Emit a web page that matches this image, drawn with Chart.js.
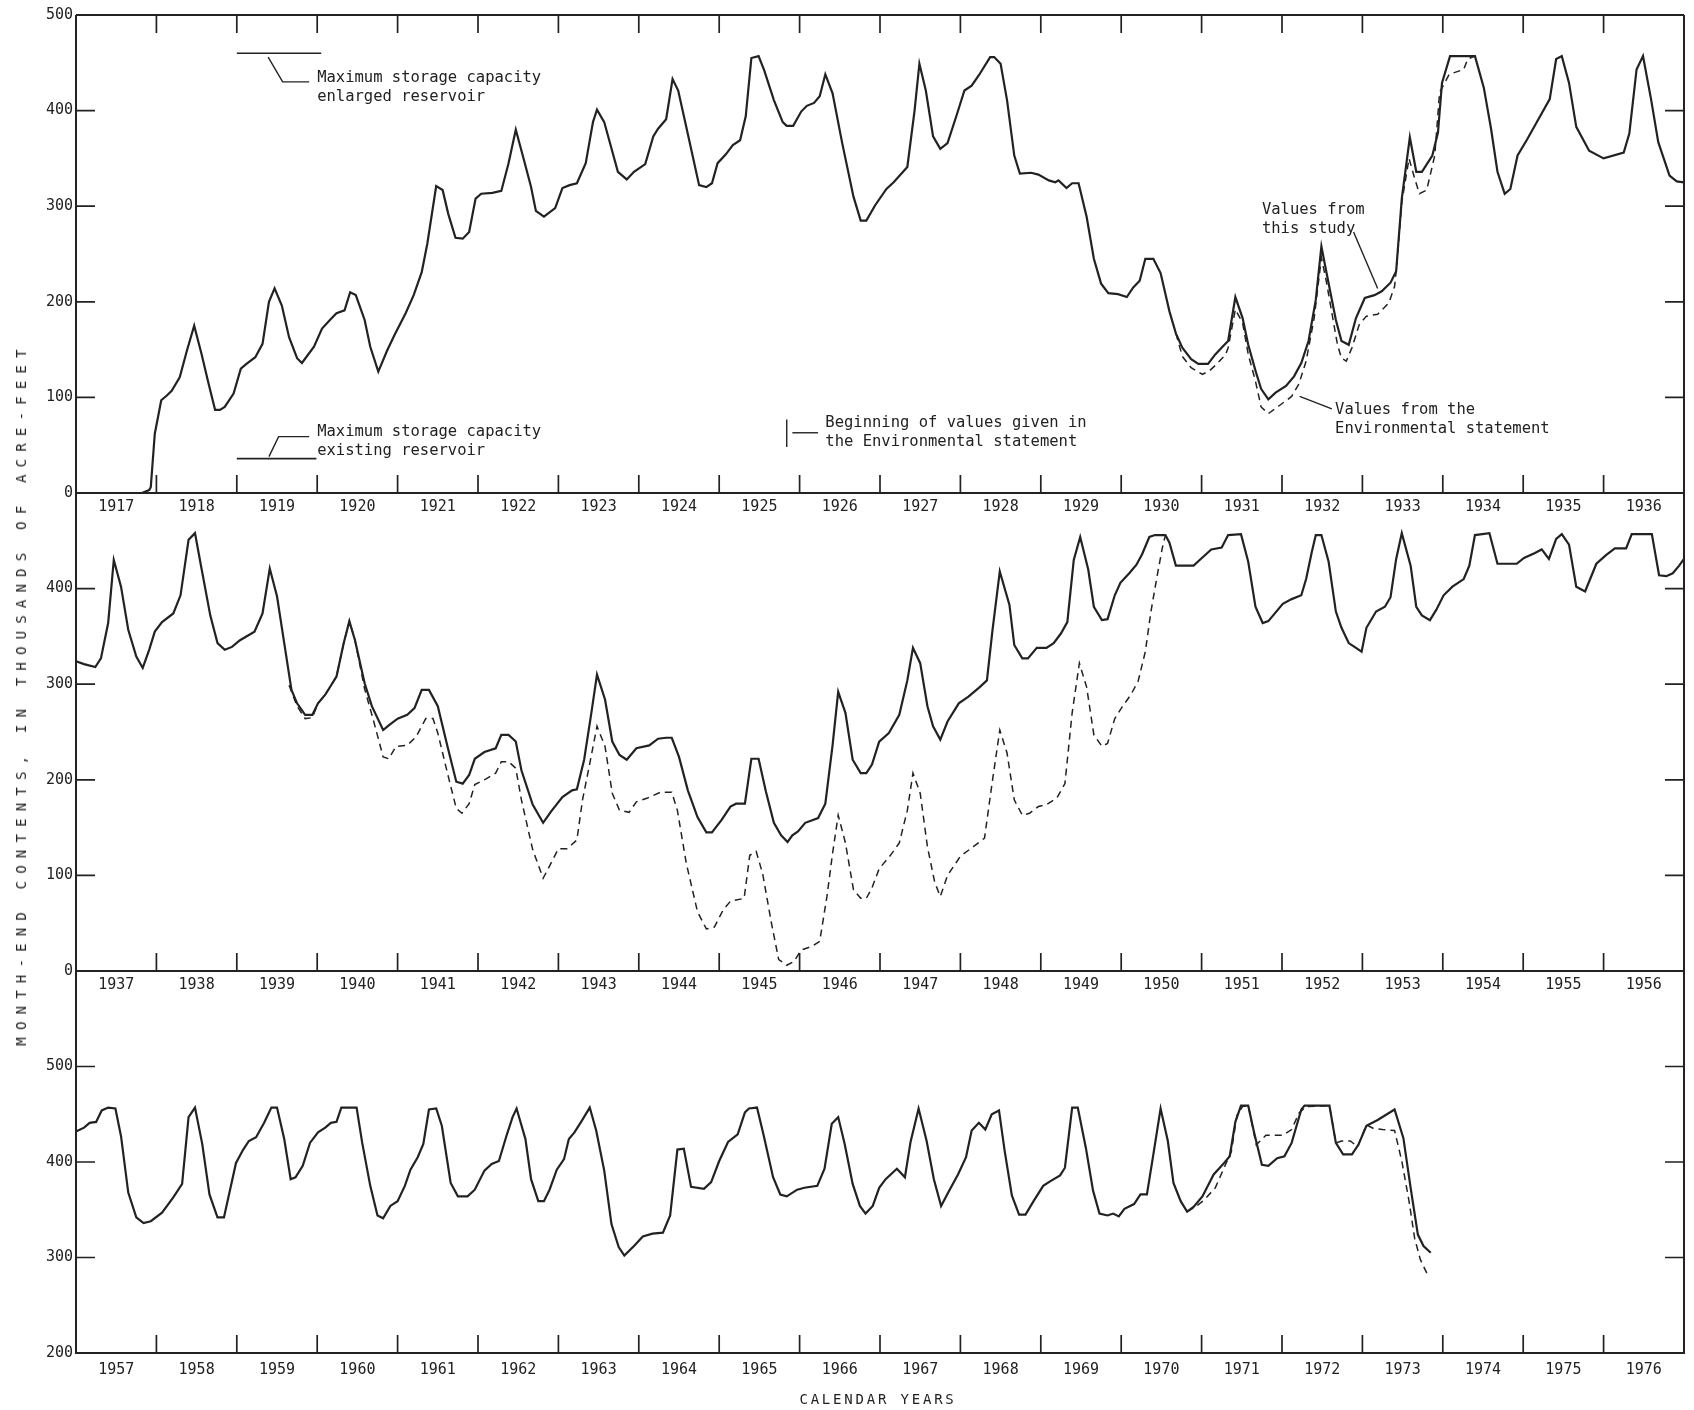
<!DOCTYPE html>
<html>
<head>
<meta charset="utf-8">
<title>Month-end contents</title>
<script src="https://cdn.jsdelivr.net/npm/chart.js@4.4.0/dist/chart.umd.min.js"></script>
<style>
html, body { margin: 0; padding: 0; background: #fff; }
#wrap { position: relative; width: 1694px; height: 1410px; overflow: hidden; }
#wrap canvas { position: absolute; left: 0; top: 0; }
.note {
    position: absolute;
    font-family: "DejaVu Sans Mono", monospace;
    font-size: 15.5px;
    line-height: 19px;
    color: #222;
    white-space: pre;
}
#yTitle {
    position: absolute;
    left: 21px;
    top: 694px;
    transform: translate(-50%, -50%) rotate(-90deg);
    font-family: "DejaVu Sans Mono", monospace;
    font-size: 14px;
    letter-spacing: 7.2px;
    color: #222;
    white-space: nowrap;
}
#xTitle {
    position: absolute;
    left: 878px;
    top: 1399px;
    transform: translate(-50%, -50%);
    font-family: "DejaVu Sans Mono", monospace;
    font-size: 14px;
    letter-spacing: 2.8px;
    color: #222;
    white-space: nowrap;
}
</style>
</head>
<body>
<div id="wrap">
    <canvas id="panel1" width="1694" height="1410"></canvas>
    <canvas id="panel2" width="1694" height="1410"></canvas>
    <canvas id="panel3" width="1694" height="1410"></canvas>
    <div id="yTitle">MONTH-END CONTENTS, IN THOUSANDS OF ACRE-FEET</div>
    <div id="xTitle">CALENDAR YEARS</div>
</div>

<script>

// Month-end contents, thousands of acre-feet, as [year, value] pairs

// 1917-1936, values from this study
const study1917 = [
    [1917.0,0],[1917.82,0],[1917.91,3],[1917.93,6],[1917.98,62],[1918.06,97],[1918.13,102],[1918.19,107],
    [1918.29,121],[1918.38,149],[1918.47,175],[1918.56,146],[1918.65,114],[1918.73,87],[1918.79,87],[1918.85,90],
    [1918.96,104],[1919.05,130],[1919.12,135],[1919.23,142],[1919.32,156],[1919.4,200],[1919.47,214],[1919.56,196],
    [1919.65,163],[1919.75,141],[1919.81,136],[1919.96,153],[1920.06,172],[1920.17,182],[1920.24,188],[1920.34,191],
    [1920.41,210],[1920.48,207],[1920.59,181],[1920.66,153],[1920.76,127],[1920.87,149],[1920.96,165],[1921.1,188],
    [1921.2,207],[1921.3,231],[1921.37,261],[1921.48,321],[1921.56,317],[1921.63,292],[1921.72,267],[1921.81,266],
    [1921.89,273],[1921.97,308],[1922.04,313],[1922.18,314],[1922.29,316],[1922.38,345],[1922.47,380],[1922.56,352],
    [1922.66,320],[1922.72,295],[1922.82,289],[1922.96,298],[1923.05,319],[1923.14,322],[1923.23,324],[1923.34,345],
    [1923.43,388],[1923.48,401],[1923.57,388],[1923.74,336],[1923.85,328],[1923.94,336],[1924.08,344],[1924.18,373],
    [1924.24,381],[1924.34,391],[1924.42,433],[1924.49,421],[1924.59,383],[1924.75,322],[1924.84,320],[1924.91,324],
    [1924.98,345],[1925.08,354],[1925.17,364],[1925.26,369],[1925.33,394],[1925.4,455],[1925.49,457],[1925.56,442],
    [1925.68,411],[1925.79,388],[1925.84,384],[1925.92,384],[1926.02,399],[1926.09,405],[1926.18,408],[1926.25,415],
    [1926.32,438],[1926.41,418],[1926.53,366],[1926.67,310],[1926.76,285],[1926.83,285],[1926.94,301],[1927.08,318],
    [1927.17,325],[1927.34,341],[1927.43,400],[1927.49,449],[1927.57,421],[1927.66,373],[1927.75,360],[1927.84,366],
    [1927.96,397],[1928.05,421],[1928.14,426],[1928.23,437],[1928.37,456],[1928.42,456],[1928.5,449],[1928.58,411],
    [1928.67,353],[1928.74,334],[1928.88,335],[1928.97,333],[1929.1,327],[1929.18,325],[1929.22,327],[1929.32,319],
    [1929.39,324],[1929.47,324],[1929.57,289],[1929.66,245],[1929.75,219],[1929.84,209],[1929.96,208],[1930.07,205],
    [1930.15,215],[1930.23,222],[1930.3,245],[1930.4,245],[1930.49,230],[1930.6,190],[1930.68,167],[1930.76,152],
    [1930.87,140],[1930.96,135],[1931.08,135],[1931.17,145],[1931.26,153],[1931.33,159],[1931.42,205],[1931.51,183],
    [1931.58,155],[1931.67,128],[1931.74,109],[1931.83,98],[1931.92,105],[1932.05,112],[1932.15,122],[1932.24,136],
    [1932.33,159],[1932.42,202],[1932.49,258],[1932.55,232],[1932.67,181],[1932.74,159],[1932.83,155],[1932.92,183],
    [1933.03,204],[1933.15,207],[1933.24,211],[1933.35,220],[1933.42,232],[1933.49,308],[1933.59,372],[1933.67,336],
    [1933.74,336],[1933.87,353],[1933.94,377],[1933.99,429],[1934.09,457],[1934.4,457],[1934.51,424],[1934.6,381],
    [1934.68,336],[1934.77,313],[1934.84,318],[1934.93,353],[1935.05,370],[1935.17,388],[1935.33,412],[1935.41,454],
    [1935.48,457],[1935.57,429],[1935.66,383],[1935.82,358],[1936.0,350],[1936.25,356],[1936.32,376],[1936.41,443],
    [1936.49,457],[1936.59,412],[1936.68,367],[1936.82,332],[1936.91,326],[1937.0,325]
];

// 1917-1936, values from the Environmental statement
const env1917 = [
    [1930.68,167],[1930.76,143],[1930.87,131],[1931.01,124],[1931.1,128],[1931.19,135],[1931.3,145],[1931.33,152],
    [1931.42,192],[1931.51,178],[1931.58,145],[1931.67,117],[1931.74,90],[1931.83,83],[1931.96,91],[1932.12,101],
    [1932.21,114],[1932.3,138],[1932.4,183],[1932.49,246],[1932.55,222],[1932.69,155],[1932.74,141],[1932.8,138],
    [1932.87,152],[1932.96,176],[1933.05,185],[1933.19,187],[1933.33,199],[1933.4,216],[1933.42,232],[1933.49,304],
    [1933.58,350],[1933.65,329],[1933.71,313],[1933.8,317],[1933.9,353],[1933.96,419],[1934.08,438],[1934.26,443],
    [1934.31,454],[1934.4,457]
];

// 1937-1956, values from this study
const study1937 = [
    [1937.0,324],[1937.1,321],[1937.24,318],[1937.31,327],[1937.4,364],[1937.47,430],[1937.56,402],[1937.65,357],
    [1937.75,329],[1937.83,317],[1937.91,336],[1937.98,355],[1938.07,365],[1938.21,374],[1938.3,393],[1938.4,451],
    [1938.48,458],[1938.55,426],[1938.67,372],[1938.76,343],[1938.85,336],[1938.94,339],[1939.04,346],[1939.22,355],
    [1939.32,374],[1939.41,421],[1939.5,392],[1939.59,343],[1939.68,294],[1939.75,280],[1939.85,268],[1939.94,268],
    [1940.01,280],[1940.1,289],[1940.24,308],[1940.33,343],[1940.4,366],[1940.47,346],[1940.59,301],[1940.68,277],
    [1940.82,252],[1940.89,257],[1941.0,264],[1941.12,268],[1941.21,275],[1941.3,294],[1941.39,294],[1941.5,277],
    [1941.62,235],[1941.73,198],[1941.81,196],[1941.89,205],[1941.96,222],[1942.08,229],[1942.22,233],[1942.29,247],
    [1942.38,247],[1942.47,240],[1942.54,210],[1942.68,174],[1942.81,155],[1942.91,167],[1943.05,182],[1943.17,189],
    [1943.23,190],[1943.32,221],[1943.41,270],[1943.48,310],[1943.58,284],[1943.67,240],[1943.76,226],[1943.85,221],
    [1943.97,233],[1944.13,236],[1944.24,243],[1944.34,244],[1944.41,244],[1944.5,224],[1944.61,189],[1944.73,161],
    [1944.84,145],[1944.91,145],[1945.03,158],[1945.14,172],[1945.21,175],[1945.32,175],[1945.4,222],[1945.49,222],
    [1945.58,188],[1945.68,155],[1945.77,142],[1945.85,135],[1945.91,142],[1945.98,146],[1946.07,155],[1946.23,160],
    [1946.32,175],[1946.41,236],[1946.48,292],[1946.57,270],[1946.66,221],[1946.76,207],[1946.83,207],[1946.9,216],
    [1946.99,240],[1947.11,249],[1947.24,268],[1947.34,304],[1947.41,338],[1947.5,322],[1947.59,277],[1947.66,256],
    [1947.75,242],[1947.84,261],[1947.98,280],[1948.1,287],[1948.24,297],[1948.33,304],[1948.4,357],[1948.49,418],
    [1948.61,383],[1948.67,341],[1948.77,327],[1948.84,327],[1948.95,338],[1949.07,338],[1949.16,343],[1949.25,353],
    [1949.33,365],[1949.41,430],[1949.49,454],[1949.59,420],[1949.66,381],[1949.76,367],[1949.83,368],[1949.92,393],
    [1949.99,406],[1950.1,416],[1950.19,425],[1950.26,436],[1950.35,454],[1950.42,456],[1950.55,456],[1950.6,448],
    [1950.68,424],[1950.9,424],[1950.99,431],[1951.12,441],[1951.25,443],[1951.33,456],[1951.49,457],[1951.58,428],
    [1951.67,381],[1951.76,364],[1951.83,366],[1952.01,384],[1952.12,389],[1952.24,393],[1952.3,410],[1952.37,438],
    [1952.42,456],[1952.49,456],[1952.58,428],[1952.67,376],[1952.74,359],[1952.83,343],[1952.92,338],[1952.99,334],
    [1953.05,359],[1953.17,376],[1953.28,381],[1953.35,391],[1953.42,431],[1953.49,458],[1953.6,424],[1953.67,381],
    [1953.74,372],[1953.84,367],[1953.92,378],[1954.01,393],[1954.12,402],[1954.26,410],[1954.33,424],[1954.4,456],
    [1954.58,458],[1954.68,426],[1954.92,426],[1955.01,432],[1955.14,437],[1955.23,441],[1955.32,431],[1955.41,452],
    [1955.48,457],[1955.57,446],[1955.66,402],[1955.77,397],[1955.91,426],[1956.03,435],[1956.14,442],[1956.28,442],
    [1956.35,457],[1956.6,457],[1956.69,414],[1956.78,413],[1956.86,416],[1956.94,424],[1957.0,431]
];

// 1937-1956, values from the Environmental statement
const env1937 = [
    [1939.65,299],[1939.75,277],[1939.85,264],[1939.94,265],[1940.01,280],[1940.1,289],[1940.24,308],[1940.33,343],
    [1940.4,366],[1940.47,346],[1940.59,295],[1940.7,262],[1940.82,224],[1940.89,222],[1940.98,235],[1941.12,236],
    [1941.23,245],[1941.35,264],[1941.44,264],[1941.5,249],[1941.62,207],[1941.73,170],[1941.8,165],[1941.89,175],
    [1941.96,195],[1942.1,201],[1942.22,207],[1942.29,219],[1942.38,219],[1942.47,212],[1942.54,179],[1942.68,127],
    [1942.81,97],[1942.91,113],[1943.0,128],[1943.11,128],[1943.23,137],[1943.3,179],[1943.39,217],[1943.48,256],
    [1943.58,235],[1943.67,186],[1943.76,168],[1943.88,166],[1943.97,177],[1944.11,181],[1944.27,187],[1944.41,187],
    [1944.48,168],[1944.59,113],[1944.73,62],[1944.84,44],[1944.94,46],[1945.05,64],[1945.14,73],[1945.31,76],
    [1945.38,121],[1945.46,125],[1945.54,102],[1945.65,50],[1945.74,12],[1945.84,6],[1945.93,10],[1946.02,22],
    [1946.16,26],[1946.25,31],[1946.34,78],[1946.41,123],[1946.48,163],[1946.57,134],[1946.67,85],[1946.76,76],
    [1946.83,76],[1946.9,87],[1946.99,107],[1947.13,121],[1947.24,134],[1947.34,168],[1947.41,207],[1947.5,186],
    [1947.59,130],[1947.68,93],[1947.75,78],[1947.84,100],[1948.0,120],[1948.16,130],[1948.3,139],[1948.4,200],
    [1948.49,252],[1948.58,228],[1948.67,179],[1948.77,163],[1948.86,165],[1948.97,172],[1949.07,174],[1949.2,181],
    [1949.3,196],[1949.39,270],[1949.48,322],[1949.57,297],[1949.66,247],[1949.76,235],[1949.83,238],[1949.92,264],
    [1950.01,276],[1950.12,289],[1950.21,303],[1950.3,334],[1950.37,376],[1950.44,410],[1950.51,442],[1950.55,456]
];

// 1957-1976, values from this study
const study1957 = [
    [1957.0,432],[1957.1,436],[1957.17,441],[1957.25,442],[1957.32,454],[1957.4,457],[1957.49,456],[1957.56,427],
    [1957.65,368],[1957.75,342],[1957.84,336],[1957.93,338],[1958.07,347],[1958.21,363],[1958.32,377],[1958.4,447],
    [1958.48,457],[1958.57,419],[1958.66,366],[1958.76,342],[1958.84,342],[1958.99,399],[1959.08,413],[1959.15,422],
    [1959.24,426],[1959.34,441],[1959.43,457],[1959.5,457],[1959.59,424],[1959.67,382],[1959.73,384],[1959.82,396],
    [1959.91,420],[1960.01,431],[1960.1,436],[1960.17,441],[1960.24,442],[1960.3,457],[1960.49,457],[1960.56,420],
    [1960.66,375],[1960.75,344],[1960.82,341],[1960.91,354],[1961.0,359],[1961.09,375],[1961.16,392],[1961.25,405],
    [1961.32,419],[1961.39,455],[1961.48,456],[1961.55,438],[1961.66,378],[1961.75,364],[1961.87,364],[1961.96,371],
    [1962.08,391],[1962.17,398],[1962.26,401],[1962.36,429],[1962.43,447],[1962.48,456],[1962.59,424],[1962.66,382],
    [1962.75,359],[1962.82,359],[1962.89,371],[1962.98,392],[1963.07,403],[1963.13,424],[1963.2,431],[1963.29,443],
    [1963.39,457],[1963.47,433],[1963.57,391],[1963.66,335],[1963.75,311],[1963.82,302],[1963.94,312],[1964.05,322],
    [1964.17,325],[1964.3,326],[1964.39,344],[1964.48,413],[1964.56,414],[1964.65,374],[1964.81,372],[1964.9,379],
    [1965.0,401],[1965.11,421],[1965.23,429],[1965.32,452],[1965.37,456],[1965.47,457],[1965.55,429],[1965.67,384],
    [1965.76,366],[1965.84,364],[1965.97,371],[1966.06,373],[1966.22,375],[1966.31,393],[1966.4,440],[1966.48,447],
    [1966.56,419],[1966.66,377],[1966.75,354],[1966.82,346],[1966.91,354],[1966.99,373],[1967.07,382],[1967.21,393],
    [1967.31,384],[1967.38,421],[1967.48,456],[1967.58,422],[1967.67,382],[1967.76,354],[1967.86,370],[1967.97,387],
    [1968.07,405],[1968.14,433],[1968.23,441],[1968.31,434],[1968.39,450],[1968.48,454],[1968.55,412],[1968.64,365],
    [1968.73,345],[1968.81,345],[1968.91,359],[1969.03,375],[1969.12,380],[1969.24,386],[1969.3,394],[1969.39,457],
    [1969.46,457],[1969.56,415],[1969.65,370],[1969.73,346],[1969.83,344],[1969.9,346],[1969.97,343],[1970.04,351],
    [1970.16,356],[1970.24,366],[1970.32,366],[1970.4,408],[1970.49,456],[1970.58,422],[1970.65,378],[1970.74,359],
    [1970.82,348],[1970.9,353],[1971.01,364],[1971.15,387],[1971.26,397],[1971.35,406],[1971.42,442],[1971.49,459],
    [1971.58,459],[1971.65,432],[1971.75,397],[1971.83,396],[1971.94,404],[1972.03,406],[1972.12,420],[1972.24,455],
    [1972.28,459],[1972.59,459],[1972.67,420],[1972.76,408],[1972.87,408],[1972.95,418],[1973.05,438],[1973.19,444],
    [1973.4,455],[1973.51,425],[1973.6,373],[1973.69,324],[1973.76,312],[1973.85,305]
];

// 1957-1976, values from the Environmental statement
const env1957 = [
    [1970.82,348],[1970.92,353],[1971.03,360],[1971.17,373],[1971.28,394],[1971.37,411],[1971.44,449],[1971.51,458],
    [1971.58,459],[1971.68,418],[1971.8,428],[1972.01,428],[1972.12,434],[1972.21,451],[1972.3,458],[1972.59,459],
    [1972.67,420],[1972.74,422],[1972.85,422],[1972.94,416],[1973.05,439],[1973.14,435],[1973.25,434],[1973.4,433],
    [1973.49,401],[1973.58,359],[1973.65,320],[1973.72,298],[1973.81,282]
];

// Maximum storage capacity marks, [from year, to year, value]
const capacityEnlarged = [1919.0, 1920.05, 460];
const capacityExisting = [1919.0, 1919.99, 36];

// Tick labels per panel
const yLabels1 = [500, 400, 300, 200, 100, 0];
const yLabels2 = [400, 300, 200, 100, 0];
const yLabels3 = [500, 400, 300, 200];

const INK = '#222';
const TICK_FONT = '15px "DejaVu Sans Mono", monospace';


const framePlugin = {

    id: 'frame',

    afterDraw(chart, args, opts) {

        const ctx = chart.ctx;
        const a = chart.chartArea;
        const x = chart.scales.x;
        const y = chart.scales.y;

        ctx.save();
        ctx.strokeStyle = INK;
        ctx.lineCap = 'butt';

        // frame: left axis, bottom axis, right border
        ctx.lineWidth = 2;
        ctx.beginPath();
        ctx.moveTo(a.left, a.top);
        ctx.lineTo(a.left, a.bottom);
        ctx.lineTo(a.right, a.bottom);
        ctx.lineTo(a.right, a.top);
        if (opts.topBorder) {
            ctx.moveTo(a.left, a.top);
            ctx.lineTo(a.right, a.top);
        }
        ctx.stroke();

        // year boundary ticks
        ctx.lineWidth = 1.7;
        ctx.beginPath();
        for (let yr = opts.start + 1; yr < opts.start + 20; yr++) {
            const px = x.getPixelForValue(yr);
            ctx.moveTo(px, a.bottom);
            ctx.lineTo(px, a.bottom - 18);
            if (opts.topBorder) {
                ctx.moveTo(px, a.top);
                ctx.lineTo(px, a.top + 18);
            }
        }

        // value ticks on both sides
        opts.valueTicks.forEach(v => {
            const py = y.getPixelForValue(v);
            ctx.moveTo(a.left, py);
            ctx.lineTo(a.left + 19, py);
            ctx.moveTo(a.right, py);
            ctx.lineTo(a.right - 19, py);
        });
        ctx.stroke();

        // leader lines for the notes
        ctx.lineWidth = 1.4;
        (opts.leaders || []).forEach(path => {
            ctx.beginPath();
            path.forEach(([t, v], i) => {
                const px = x.getPixelForValue(t);
                const py = y.getPixelForValue(v);
                if (i === 0) ctx.moveTo(px, py);
                else ctx.lineTo(px, py);
            });
            ctx.stroke();
        });

        // labels
        ctx.fillStyle = INK;
        ctx.font = TICK_FONT;
        ctx.textBaseline = 'middle';

        ctx.textAlign = 'right';
        opts.yLabels.forEach(v => {
            ctx.fillText(String(v), a.left - 3, y.getPixelForValue(v));
        });

        ctx.textAlign = 'center';
        for (let yr = opts.start; yr < opts.start + 20; yr++) {
            ctx.fillText(String(yr), x.getPixelForValue(yr + 0.5), a.bottom + opts.labelGap);
        }

        ctx.restore();

    }

};


function toPoints(pairs) {
    return pairs.map(([t, v]) => ({ x: t, y: v }));
}

function solidSet(pairs) {
    return {
        data: toPoints(pairs),
        borderColor: INK,
        borderWidth: 2.2,
        pointRadius: 0,
        tension: 0,
        clip: false,
        order: 0
    };
}

function dashedSet(pairs) {
    return {
        data: toPoints(pairs),
        borderColor: INK,
        borderWidth: 1.5,
        borderDash: [7, 5],
        pointRadius: 0,
        tension: 0,
        clip: false,
        order: 1
    };
}

function capacitySet(mark) {
    return {
        data: [{ x: mark[0], y: mark[2] }, { x: mark[1], y: mark[2] }],
        borderColor: INK,
        borderWidth: 1.6,
        pointRadius: 0,
        clip: false,
        order: 2
    };
}

function makePanel(canvasId, cfg) {

    return new Chart(document.getElementById(canvasId), {

        type: 'line',

        data: {
            datasets: cfg.datasets
        },

        options: {

            responsive: false,
            animation: false,
            devicePixelRatio: 1,

            layout: {
                padding: {
                    left: 76,
                    right: 10,
                    top: cfg.top,
                    bottom: 1410 - cfg.bottom
                }
            },

            scales: {
                x: { type: 'linear', min: cfg.start, max: cfg.start + 20, display: false },
                y: { type: 'linear', min: cfg.yMin, max: cfg.yMax, display: false }
            },

            plugins: {
                legend: { display: false },
                tooltip: { enabled: false },
                frame: {
                    start: cfg.start,
                    topBorder: cfg.topBorder,
                    valueTicks: cfg.valueTicks,
                    yLabels: cfg.yLabels,
                    labelGap: cfg.labelGap,
                    leaders: cfg.leaders
                }
            }

        },

        plugins: [framePlugin]

    });

}


const chart1 = makePanel('panel1', {
    start: 1917, yMin: 0, yMax: 500, top: 15, bottom: 493,
    topBorder: true, valueTicks: [100, 200, 300, 400], yLabels: yLabels1, labelGap: 14,
    datasets: [
        solidSet(study1917), dashedSet(env1917),
        capacitySet(capacityEnlarged), capacitySet(capacityExisting)
    ],
    leaders: [
        [[1919.39, 456], [1919.57, 430], [1919.9, 430]],
        [[1919.4, 38], [1919.52, 59], [1919.9, 59]],
        [[1925.84, 48], [1925.84, 77]],
        [[1925.91, 63], [1926.23, 63]],
        [[1932.89, 273], [1933.19, 214]],
        [[1932.22, 101], [1932.62, 88]]
    ]
});

makePanel('panel2', {
    start: 1937, yMin: 0, yMax: 500, top: 493, bottom: 971,
    topBorder: false, valueTicks: [100, 200, 300, 400], yLabels: yLabels2, labelGap: 14,
    datasets: [solidSet(study1937), dashedSet(env1937)]
});

makePanel('panel3', {
    start: 1957, yMin: 200, yMax: 600, top: 971, bottom: 1353,
    topBorder: false, valueTicks: [300, 400, 500], yLabels: yLabels3, labelGap: 17,
    datasets: [solidSet(study1957), dashedSet(env1957)]
});


// Notes placed through the top panel's scales; v is the centre of the first line
const notes = [
    { t: 1920.0, v: 435, text: 'Maximum storage capacity\nenlarged reservoir' },
    { t: 1920.0, v: 64, text: 'Maximum storage capacity\nexisting reservoir' },
    { t: 1926.32, v: 74, text: 'Beginning of values given in\nthe Environmental statement' },
    { t: 1931.75, v: 297, text: 'Values from\nthis study' },
    { t: 1932.66, v: 87, text: 'Values from the\nEnvironmental statement' }
];

const wrap = document.getElementById('wrap');

notes.forEach(n => {

    const div = document.createElement('div');
    div.className = 'note';
    div.textContent = n.text;
    div.style.left = chart1.scales.x.getPixelForValue(n.t) + 'px';
    div.style.top = (chart1.scales.y.getPixelForValue(n.v) - 9.5) + 'px';
    wrap.appendChild(div);

});

</script>
</body>
</html>
